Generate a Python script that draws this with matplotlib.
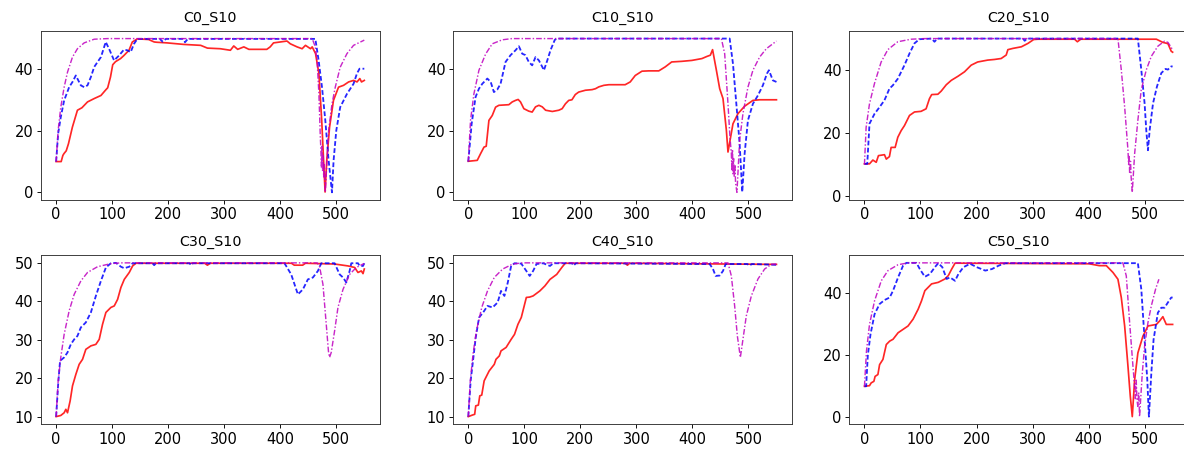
import matplotlib
matplotlib.use("Agg")
import matplotlib.pyplot as plt

# ---------------- data (x, y) points ----------------
TITLES = ["C0_S10", "C10_S10", "C20_S10", "C30_S10", "C40_S10", "C50_S10"]
X_TICKS = [0, 100, 200, 300, 400, 500]
Y_TICKS_A = [0, 20, 40]
Y_TICKS_B = [10, 20, 30, 40, 50]

C0_RED = [(0, 10), (9, 10), (12, 12), (14, 12.6), (18, 13.5), (22, 15.8), (29, 21.2), (38, 26.7),
          (46, 27.5), (56, 29.4), (68, 30.5), (80, 31.5), (88, 33.2), (92, 34), (97, 37.5), (101, 41.5),
          (106, 42.5), (115, 43.5), (121, 44.5), (130, 46.2), (136, 48.9), (145, 49.9), (165, 49.7),
          (175, 48.9), (180, 48.8), (198, 48.6), (228, 48.1), (258, 47.8), (270, 46.9), (293, 46.7),
          (311, 46.2), (317, 47.6), (324, 46.5), (335, 47.3), (344, 46.5), (376, 46.5), (382, 47.3),
          (388, 48.6), (412, 49.2), (418, 48.3), (430, 47.3), (439, 46.7), (445, 47.8), (454, 46.7),
          (457, 47.3), (463, 45.1), (469, 38.6), (474, 23.4), (480, 0.1), (483, 10.4), (488, 21.2),
          (495, 29.9), (504, 34.2), (513, 34.8), (522, 35.9), (531, 36.4), (537, 35.9), (542, 37),
          (545, 35.9), (550, 36.4)]
C0_BLUE = [(0, 10), (3.6, 19.1), (8.3, 24.5), (14.3, 29.9), (23.2, 34.2), (29.2, 35.9), (35.1, 38),
           (44, 34.8), (50, 34.2), (56, 34.8), (62, 37.5), (68, 40.8), (80, 44), (88.5, 48.9),
           (94.4, 46.7), (103.4, 42.9), (112.3, 44.5), (121, 46.4), (127, 46.2), (133, 45.6),
           (139, 48.3), (145, 49.9), (185, 49.9), (190, 49), (196, 49.9), (226, 49.9), (230, 48.8),
           (235, 49.9), (462.6, 49.9), (468.5, 42.9), (474.5, 34.2), (480.4, 23.4), (486.3, 10.4),
           (492.3, 0), (495.2, 10.4), (500, 20.1), (507, 27.7), (519, 32), (530.8, 35.3),
           (536.8, 38.6), (541.5, 40.2), (550, 40.2)]
C0_MAG = [(0, 10), (3.6, 20.2), (8.3, 27.7), (14.3, 34.2), (20.3, 39.1), (29.2, 44), (38, 46.7),
          (50, 48.6), (68, 49.8), (92, 50), (457, 50), (462.6, 47.3), (466, 42), (469, 32),
          (471.5, 18), (472.5, 14), (473.5, 8), (474.5, 15), (475.5, 7), (476.5, 12), (477.5, 5),
          (478.5, 9), (480.4, 0), (486.3, 20), (492.3, 28.7), (498.2, 34.2), (507, 40.7),
          (519, 45.1), (530.8, 47.8), (550, 49.5)]

C10_RED = [(0, 10.1), (16, 10.4), (22, 12.6), (28, 14.7), (32, 15), (36.8, 23.4), (42.8, 25),
           (48.7, 27.7), (54.6, 28.3), (72.4, 28.5), (78.4, 29.4), (84.3, 29.9), (89, 30.2),
           (93.2, 29.4), (99.2, 27.2), (108, 26.4), (114, 26.1), (120, 27.8), (126, 28.3),
           (132, 27.8), (138, 26.7), (150, 26.3), (161.5, 26.7), (167.5, 27.2), (173.4, 28.8),
           (179.3, 29.9), (185, 30.1), (191, 31.8), (197, 32.6), (209, 33.2), (221, 33.4),
           (227, 33.7), (233, 34.3), (242, 34.8), (251, 35), (280, 35), (289, 35.9), (298, 38),
           (310, 39.4), (322, 39.5), (340, 39.5), (351.5, 40.8), (363, 42.4), (381, 42.6),
           (399, 42.9), (417, 43.5), (426, 44.2), (432, 44.6), (436, 46.4), (442.8, 39.7),
           (448.7, 33.7), (454.6, 30.5), (460.6, 20.2), (463.5, 13.1), (472.4, 22.3),
           (481.3, 25.6), (493.2, 28), (508, 29.9), (520, 30.1), (550, 30.1)]
C10_BLUE = [(0, 10), (6, 22.3), (13, 31), (19, 33.7), (25, 35.3), (34, 37), (40, 35.9),
            (45.7, 32.6), (51.7, 33.4), (57.6, 35.3), (66.5, 42.4), (75.4, 44.6), (84.3, 46.2),
            (90.3, 47.5), (96.2, 45.1), (102, 44.6), (108, 42.4), (114, 41.3), (120, 44),
            (126, 42.9), (132, 40.8), (135, 39.7), (141, 42.9), (146.7, 46.2), (154.4, 49.6),
            (158.5, 50), (466.5, 50), (472.4, 41.8), (478.4, 28.8), (484.3, 15.8), (489, 0.1),
            (493.2, 12.6), (499.1, 23.4), (508, 28.8), (516.9, 31.5), (525.8, 34.8), (533, 38.6),
            (536.5, 39.7), (543.7, 36.4), (550, 35.9)]
C10_MAG = [(0, 10), (4, 23.4), (10, 32), (19, 39.7), (31, 45), (42.8, 48.3), (60.6, 49.6),
           (78, 50), (451.7, 50), (457.6, 45.1), (463.5, 28.8), (467, 18), (469.5, 12.6),
           (470.5, 7), (471.5, 14), (472.5, 6), (473.5, 11), (474.5, 5), (476, 9), (477, 3),
           (479.5, 0), (484.3, 16.9), (490.2, 25.6), (499.1, 34.2), (508, 39.7), (520, 44),
           (531.9, 46.7), (550, 49.2)]

C20_RED = [(0, 10.2), (9, 10.2), (15, 11.4), (21, 10.7), (25, 12.8), (35.7, 13.1), (39, 11.7),
           (44.6, 12.5), (47.6, 15.4), (54.8, 15.4), (59.5, 18.6), (65.5, 20.7), (71.4, 22.3),
           (80.4, 25.5), (89.3, 26.6), (101, 26.8), (110, 27.6), (116, 30.8), (120, 32.1),
           (131, 32.2), (137, 33.2), (146, 35.2), (155, 36.6), (167, 37.9), (178.6, 39.3),
           (190.5, 41.4), (202, 42.4), (220, 43), (232, 43.2), (244, 43.5), (253, 44.6),
           (256, 46.3), (265, 46.7), (280, 47.2), (292, 48.3), (302, 49.5), (309.5, 49.6),
           (375, 49.6), (380, 48.8), (386, 49.6), (521, 49.6), (532.6, 48.6), (541.6, 48.2),
           (547.5, 45.8), (550, 45.5)]
C20_BLUE = [(0, 10.2), (5, 10.2), (9, 22.9), (17.9, 26), (26.8, 28.1), (35.7, 30.3), (44.6, 34),
            (50.6, 35), (59.5, 37.1), (71.4, 41.4), (80.4, 45.1), (89.3, 48.3), (98, 49.6),
            (120, 49.8), (125, 48.8), (130, 49.8), (283, 49.8), (286, 49.1), (290, 49.8),
            (488, 49.8), (494.1, 39.9), (500, 29.3), (503, 20.8), (506, 14.5), (509, 20.8),
            (515, 29.3), (522, 34.6), (529.8, 38.9), (537.4, 40.2), (541.6, 40), (547.5, 41),
            (550, 41)]
C20_MAG = [(0, 10), (3, 21.8), (9, 29.2), (17.9, 35.6), (29.8, 42.4), (41.7, 46.3), (59.5, 48.8),
           (83, 49.6), (107, 49.8), (452.4, 49.8), (458.4, 39.9), (464.4, 28.2), (470.3, 14.5),
           (471.5, 10), (472.5, 13), (473.3, 7), (474.9, 11), (476, 6), (478, 1.2), (482.2, 13.4),
           (488, 24), (494, 33.6), (503, 39.9), (512, 44.2), (523.7, 47.4), (535.6, 49),
           (541.6, 48.6), (547.6, 47), (550, 46)]

C30_RED = [(0, 10), (8.3, 10.3), (14.3, 11), (17.3, 11.9), (20.3, 11), (25, 14.1), (29.2, 18),
           (35.2, 21), (41.1, 23.6), (47.1, 24.9), (53, 27.5), (62, 28.4), (70.9, 28.8),
           (76.9, 30.1), (82.8, 34), (88.8, 37.1), (97.7, 38.4), (103.7, 38.8), (109.7, 40.5),
           (115.6, 43.6), (121.6, 45.7), (130.5, 47.5), (136.5, 49.2), (142.4, 49.9), (265, 49.9),
           (270, 49.4), (275, 49.9), (420, 49.9), (425, 49.4), (440, 49.4), (445, 49.9),
           (497, 49.7), (521, 49.2), (532.8, 48.8), (538.7, 47.5), (544.7, 47.9), (547.7, 47.2),
           (550, 48.4)]
C30_BLUE = [(0, 10), (3.6, 18.4), (7, 24.5), (14.3, 25.4), (20.3, 26.7), (26.2, 28.8),
            (32.2, 30.1), (38.1, 31), (44.1, 33.2), (53, 34.5), (62, 37.1), (70.9, 41.4),
            (79.9, 45.3), (88.8, 48.8), (97.7, 49.9), (106.7, 50), (115.6, 49), (121.6, 48.6),
            (130.5, 49), (136.5, 49.9), (172, 49.9), (175, 49.4), (178, 49.9), (238, 49.9),
            (241, 49.4), (244, 49.9), (407.6, 49.9), (419.5, 47), (431.5, 41.8), (440.4, 43.1),
            (449.3, 45.7), (458.3, 46.2), (467.2, 47.9), (473.2, 49.9), (497, 49.9), (506, 47),
            (512, 46.2), (517.9, 44.9), (523.8, 47.9), (526.8, 49.9), (538.7, 49.9),
            (541.7, 49.2), (547.7, 49.2), (550, 49.9)]
C30_MAG = [(0, 10), (3.6, 19.3), (8.3, 25.4), (14.3, 31.4), (23.2, 37.5), (32.2, 41.8),
           (44.1, 45.3), (56, 47.5), (73.9, 49), (97.7, 49.8), (115.6, 50), (466, 50), (470.2, 49),
           (476.2, 44.4), (482.1, 34), (486, 27), (488, 25.4), (491, 26.7), (497, 32.3),
           (503, 38.4), (512, 43.1), (523.8, 47), (535.7, 48.8), (547.7, 49.7), (550, 49.8)]

C40_RED = [(0, 10), (7.2, 10.4), (11.4, 10.6), (13.3, 12.8), (18, 13), (20.5, 15.4), (24, 15.6),
           (28.3, 19.3), (37.3, 21.9), (46.4, 23.6), (49.4, 24.9), (55.4, 25.8), (58.4, 27.1),
           (67.5, 28), (76.5, 30.1), (82.5, 31.4), (88.6, 34), (94.6, 35.8), (103.6, 41),
           (109.6, 41.1), (115.7, 41.4), (127.7, 42.7), (136.7, 44), (145.8, 45.7), (157.8, 47),
           (166.9, 48.8), (173, 49.9), (280, 49.9), (284, 49.4), (288, 49.9), (550, 49.6)]
C40_BLUE = [(0, 10), (4.2, 19.3), (8.4, 24.5), (13.3, 30.6), (19.3, 35.8), (26.5, 37.1),
            (34.3, 38.8), (43.4, 38.4), (52.4, 39.7), (58.4, 42.7), (64.5, 41.4), (70.5, 44.9),
            (76.5, 49.2), (82.5, 49.9), (94.6, 49.8), (103.6, 47.9), (109.6, 46.6), (115.7, 47.9),
            (121.7, 49.7), (133.7, 49.9), (145.8, 49.2), (151.8, 49.9), (185, 49.9), (188, 49.3),
            (192, 49.9), (430.8, 49.7), (436.7, 48.4), (441.5, 46.6), (448.7, 46.7),
            (454.6, 47.9), (459.4, 49.7), (498, 49.7), (502, 49.3), (506, 49.7), (550, 49.5)]
C40_MAG = [(0, 10), (3.6, 19.3), (8.4, 26.2), (14.5, 32.3), (24, 38.4), (34.3, 42.7),
           (46.4, 46.2), (61.4, 48.4), (79.5, 49.7), (97.6, 50), (463.5, 50), (469.5, 46.6),
           (475.4, 38.8), (480.2, 31), (485.6, 25.4), (490.2, 30.1), (496.2, 36.2),
           (505.2, 41.4), (517, 45.8), (528.9, 48.4), (540.8, 49.6), (550, 49.7)]

C50_RED = [(0, 10), (9, 10.2), (12, 11.1), (16.8, 11.6), (19, 13.2), (24, 13.8), (27, 17),
           (33, 18.7), (39, 23.5), (45, 24.6), (51, 25.2), (60, 27.3), (68.9, 28.4), (77.8, 29.5),
           (86.8, 31.7), (95.8, 34.9), (101.8, 37.6), (107.8, 40.9), (119.8, 43.1), (131.7, 43.6),
           (143.7, 44.7), (149.7, 45.8), (155.7, 47.9), (161.7, 49.8), (401, 49.6), (419, 49),
           (431.7, 49), (443.5, 46.8), (452.4, 44.6), (458.4, 38.7), (464.4, 29.5),
           (470.3, 16.5), (474.5, 6.7), (478, 0.2), (482.2, 12.1), (488, 20.8), (497, 26.2),
           (506, 29.5), (521, 30), (526.7, 31.1), (532.6, 32.5), (538.7, 30), (550, 30)]
C50_BLUE = [(0, 10), (3, 10), (6, 20), (10.8, 26.8), (18, 33.3), (27, 36.6), (36, 37.9),
            (45, 38.7), (51, 40.9), (60, 45.2), (68.9, 49), (74.9, 49.9), (92.8, 49.9),
            (98.8, 47.9), (107.8, 45.4), (116.8, 46.3), (125.7, 48.5), (131.7, 49.8), (139, 48.5),
            (146.7, 44.7), (152.7, 45.2), (161.7, 44.1), (167.7, 46.3), (176.6, 48.5),
            (188.6, 49.6), (200.6, 48.5), (215.6, 47.4), (227.5, 47.9), (239.5, 49),
            (251.5, 49.8), (488, 49.8), (494.1, 41.4), (500, 25.1), (504.8, 12.1), (507.7, 0.2),
            (512, 14.3), (516, 25.1), (523.7, 33.8), (529.8, 35.4), (535.6, 35.4), (541.6, 37.1),
            (547.6, 38.7), (550, 38.7)]
C50_MAG = [(0, 10), (3.6, 21.4), (9, 30), (18, 37.6), (30, 44.1), (42, 47.4), (60, 49.3),
           (78, 49.9), (461.3, 49.9), (467.3, 45.7), (473.3, 30.6), (479.2, 16.5), (482.2, 10),
           (483.5, 6), (485, 12), (486.5, 5.4), (488, 3.5), (489.5, 8), (491, 0.2),
           (495.9, 14.3), (500, 23), (506, 30.6), (512, 36), (519.6, 41.4), (525.5, 44.6)]

PANELS = [
    (C0_RED, C0_BLUE, C0_MAG, Y_TICKS_A),
    (C10_RED, C10_BLUE, C10_MAG, Y_TICKS_A),
    (C20_RED, C20_BLUE, C20_MAG, Y_TICKS_A),
    (C30_RED, C30_BLUE, C30_MAG, Y_TICKS_B),
    (C40_RED, C40_BLUE, C40_MAG, Y_TICKS_B),
    (C50_RED, C50_BLUE, C50_MAG, Y_TICKS_A),
]

# ---------------- layout ----------------
DPI = 82
fig = plt.figure(figsize=(1184 / DPI, 451 / DPI), dpi=DPI)
lefts = [0.0344, 0.3825, 0.7171]
bottoms = [0.5565, 0.0592]
W, H = 0.2863, 0.3750


def xy(points):
    return [p[0] for p in points], [p[1] for p in points]


for i, (red, blue, mag, yt) in enumerate(PANELS):
    ax = fig.add_axes([lefts[i % 3], bottoms[i // 3], W, H])
    x, y = xy(red)
    ax.plot(x, y, color="red", lw=1.5, alpha=0.85)
    x, y = xy(blue)
    ax.plot(x, y, color="blue", lw=1.6, alpha=0.85, dashes=(2.6, 1.3))
    x, y = xy(mag)
    ax.plot(x, y, color="m", lw=1.25, alpha=0.85, dashes=(4.0, 1.4, 1.0, 1.4))
    ax.set_title(TITLES[i], fontsize=12.5, pad=8)
    ax.set_xticks(X_TICKS)
    ax.set_yticks(yt)
    ax.tick_params(labelsize=12.8, length=3.5, pad=3)
    for s in ax.spines.values():
        s.set_color("#333333")

fig.savefig("out.png", dpi=DPI)
